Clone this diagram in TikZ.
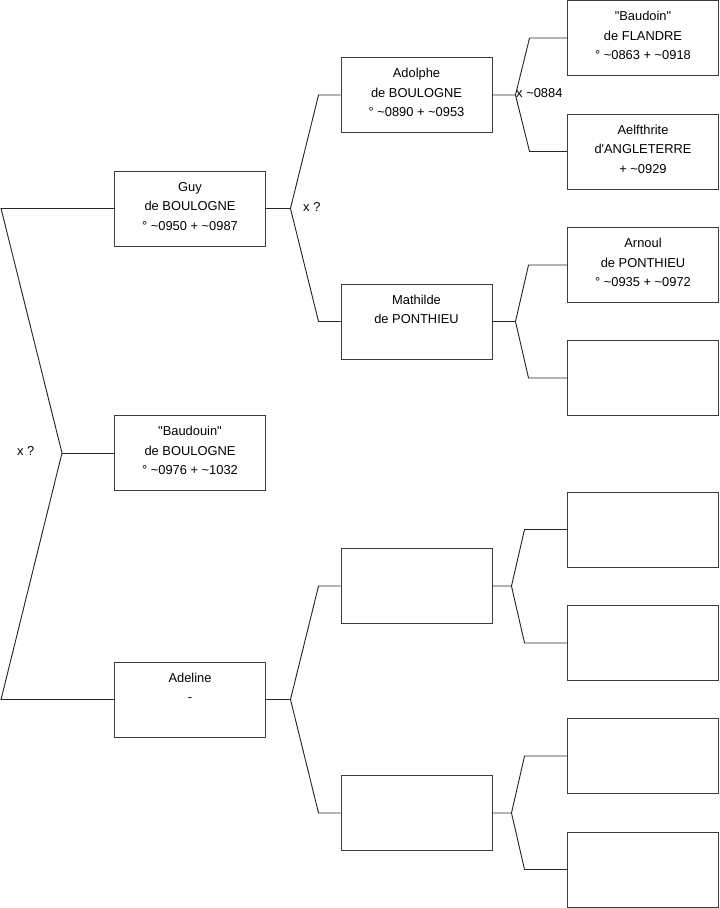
\documentclass[tikz,border=0pt]{standalone}
\usepackage{fontspec}
\setmainfont{Liberation Sans}
\usetikzlibrary{calc}
\definecolor{linegray}{RGB}{40,40,40}
\definecolor{boxgray}{RGB}{60,60,60}
\newcommand{\tl}{\textasciitilde}
\newcommand{\qt}{\textquotedbl}
% fork from a parent box to two child boxes
\newcommand{\fork}[5]{%
  \path (#1.east) ++(#2,0) coordinate (#1-x);
  \draw[link] (#1.east) -- (#1-x) -- ($(#3.west)+(-#5,0)$) -- (#3.west);
  \draw[link] (#1-x) -- ($(#4.west)+(-#5,0)$) -- (#4.west);}

\begin{document}
\begin{tikzpicture}[x=0.03cm, y=-0.03cm,
  person/.style={draw=boxgray, line width=0.8pt, minimum width=4.53cm, minimum height=2.25cm, inner sep=0pt, text depth=4pt, align=center, font=\fontsize{11}{16.6}\selectfont},
  link/.style={draw=linegray, line width=0.8pt},
  union/.style={anchor=west, inner sep=0pt, font=\fontsize{11}{13}\selectfont}]
\useasboundingbox (0,0) rectangle (719,908);

% --- Column 1: subject and parents ---
\node[person] (guy) at (190,208.5) {Guy\\de BOULOGNE\\° \tl0950 + \tl0987};
\node[person] (baudouin) at (190,453) {\qt Baudouin\qt\\de BOULOGNE\\° \tl0976 + \tl1032};
\node[person] (adeline) at (190,699.5) {Adeline\\-\\\mbox{}};

% --- Column 2: grandparents ---
\node[person] (adolphe) at (416.5,95) {Adolphe\\de BOULOGNE\\° \tl0890 + \tl0953};
\node[person] (mathilde) at (416.5,321.5) {Mathilde\\de PONTHIEU\\\mbox{}};
\node[person] (pa) at (416.5,586) {};
\node[person] (pb) at (416.5,813) {};

% --- Column 3: great-grandparents ---
\node[person] (baudoin) at (643,38) {\qt Baudoin\qt\\de FLANDRE\\° \tl0863 + \tl0918};
\node[person] (aelfthrite) at (643,151.5) {Aelfthrite\\d\textquotesingle ANGLETERRE\\+ \tl0929};
\node[person] (arnoul) at (643,265) {Arnoul\\de PONTHIEU\\° \tl0935 + \tl0972};
\node[person] (mb) at (643,378) {};
\foreach \n/\y in {paa/529.5, pab/643, pba/756, pbb/869.5}
  \node[person] (\n) at (643,\y) {};

% --- Links ---
\coordinate (root-x) at (62,453);
\draw[link] (guy.west) -- ++(-113,0) -- (root-x) -- ($(adeline.west)+(-113,0)$) -- (adeline.west);
\draw[link] (root-x) -- (baudouin.west);
\fork{guy}{24.5}{adolphe}{mathilde}{22}
\fork{adeline}{24.5}{pa}{pb}{22}
\fork{adolphe}{23}{baudoin}{aelfthrite}{37.5}
\fork{mathilde}{23}{arnoul}{mb}{38.5}
\fork{pa}{19}{paa}{pab}{42.5}
\fork{pb}{19}{pba}{pbb}{42.5}

% --- Unions ---
\node[union] (u-root) at (17,451) {x ?};
\node[union] (u-guy) at (303,207) {x ?};
\node[union] (u-adolphe) at (516,93) {x \tl0884};

\end{tikzpicture}
\end{document}
